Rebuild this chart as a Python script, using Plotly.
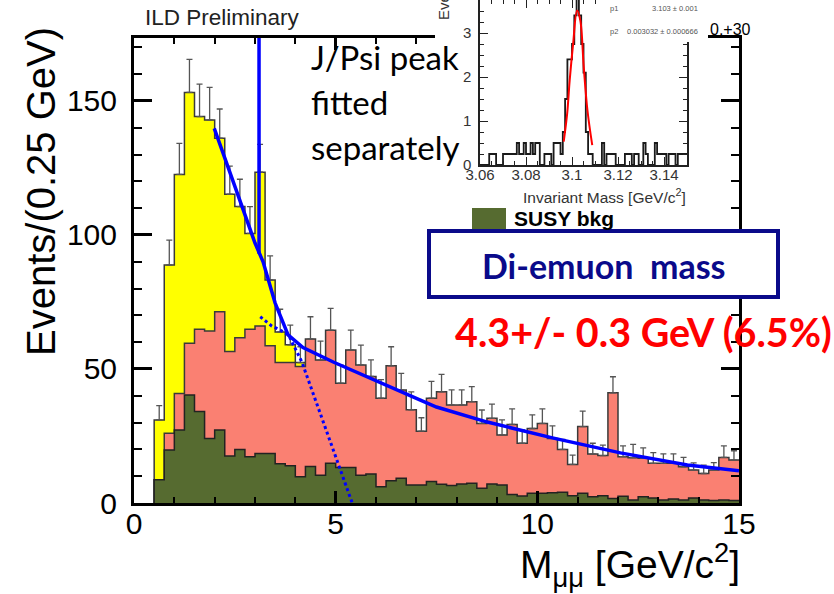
import plotly.graph_objects as go

W, H = 834, 594

# ---------------- data: main histogram (0.25 GeV bins, 0.5 .. 15 GeV) ----------------
bin_start = 0.5
bin_width = 0.25
n_bins = 58
edges = [bin_start + bin_width * i for i in range(n_bins + 1)]
centers = [e + bin_width / 2 for e in edges[:-1]]

# SUSY background (olive, bottom of stack)
susy_bkg = [8.7, 19.8, 27.2, 40.3, 34.1, 24.1, 27.2, 17.5, 20.0, 17.3,
            18.5, 18.5, 14.6, 13.9, 9.8, 13.6, 10.4, 14.8, 13.2, 13.2,
            10.4, 10.8, 6.1, 8.3, 9.2, 6.7, 6.7, 8.0, 7.0, 6.5,
            7.1, 7.4, 5.5, 7.1, 6.7, 3.2, 2.6, 3.6, 3.6, 3.8,
            4.0, 2.7, 3.6, 2.3, 2.7, 1.7, 2.5, 1.1, 2.3, 1.9,
            1.1, 1.5, 1.1, 1.9, 1.1, 0.9, 1.1, 0.9]

# cumulative top of the salmon component
salmon_top = [8.7, 26.0, 40.9, 59.6, 64.8, 64.2, 71.4, 56.5, 61.7, 64.8,
              66.0, 58.7, 52.4, 52.4, 50.9, 61.2, 53.4, 64.5, 44.7, 57.1,
              51.5, 47.2, 39.1, 51.2, 42.2, 34.8, 26.8, 39.1, 41.5, 36.6,
              36.6, 37.8, 29.7, 31.6, 25.4, 29.3, 22.3, 27.8, 29.7, 24.1,
              20.0, 14.4, 28.5, 18.3, 17.7, 41.1, 17.3, 16.9, 16.7, 14.8,
              14.8, 14.8, 13.5, 12.3, 11.0, 12.3, 17.0, 16.0]

# cumulative top of the yellow component (first 15 bins, 0.5 .. 4.25 GeV)
yellow_top = [31.0, 88.8, 122.6, 153.2, 144.2, 142.9, 136.1, 115.2, 110.6, 100.6,
              123.4, 83.2, 63.8, 59.0, 52.4]

# upper end of the error bars
err_top = [36.3, 98.1, 134.2, 165.5, 156.3, 155.1, 147.0, 125.7, 120.8, 110.6,
           133.8, 92.2, 72.3, 66.4, 58.3, 69.5, 60.4, 72.6, 51.4, 64.5,
           58.9, 53.4, 46.0, 58.3, 48.4, 41.5, 31.8, 45.4, 48.0, 42.2,
           42.2, 43.4, 34.7, 36.9, 31.0, 35.1, 27.3, 32.9, 35.1, 28.8,
           23.7, 17.9, 34.3, 22.3, 21.6, 47.1, 21.3, 21.9, 20.6, 18.8,
           18.3, 18.3, 17.0, 15.0, 14.1, 15.1, 21.3, 19.5]

# fit curves
fit_x = [1.99, 2.46, 3.0, 3.2, 3.5, 3.82, 4.19, 4.94, 6.1, 7.1, 7.5, 8.76, 10.4, 12.06, 13.72, 15.0]
fit_y = [139.8, 120.0, 97.0, 90.0, 74.6, 62.7, 58.0, 52.6, 44.8, 38.4, 35.8, 30.2, 24.2, 18.7, 14.2, 12.0]
edge_fit_x = [3.13, 3.42, 3.62, 3.83, 4.16, 4.62, 5.03, 5.41]
edge_fit_y = [69.5, 66.0, 64.6, 62.7, 52.7, 33.5, 16.0, 0.0]
jpsi_x = [3.1, 3.1]
jpsi_y = [93.0, 260.0]

# ---------------- data: inset (J/Psi peak) ----------------
inset_start = 3.06
inset_width = 0.001
inset_vals = [0, 0, 0, 0, 0.25, 0.25, 0.25, 0, 0, 0,
              0.25, 0.25, 0.25, 0.25, 0.25, 0.25, 0.5, 0.25, 0.25, 0.5,
              0.25, 0.25, 0.5, 0.25, 0.5, 0.5, 0, 0, 0.25, 0.25,
              0.25, 0, 0.5, 0.5, 0.5, 0.25,
              0.75, 1.5, 2.4, 2.4, 2.75, 3.4, 4.0, 3.4, 2.75, 2.1, 0.75, 0.25,
              0.25, 0, 0, 0, 0, 0.5, 0, 0.25, 0.25, 0.25,
              0.25, 0, 0, 0, 0, 0.25, 0.25, 0.25, 0, 0.25,
              0.25, 0, 0, 0.5, 0.25, 0, 0, 0, 0.5, 0.25,
              0.25, 0.25, 0.25, 0, 0.25, 0.25, 0.25, 0, 0.25, 0.25,
              0.25, 0.25]
inset_edges = [inset_start + inset_width * i for i in range(len(inset_vals) + 1)]
gaus_x = [3.0964, 3.0979, 3.099, 3.1005, 3.1022, 3.1036, 3.1051, 3.1067, 3.1088]
gaus_y = [0.53, 1.17, 1.93, 2.76, 3.51, 3.29, 2.23, 1.25, 0.45]

x_ticks = [0, 5, 10, 15]
y_ticks = [0, 50, 100, 150]
inset_x_ticks = [3.06, 3.08, 3.1, 3.12, 3.14]
inset_x_labels = ["3.06", "3.08", "3.1", "3.12", "3.14"]
inset_y_ticks = [0, 1, 2, 3]

# ---------------- helpers ----------------
def px(x):
    return x / W

def py(y):
    return 1 - y / H

def step(xe, vals, close_right=False):
    xs = [xe[0]] + list(xe[:-1]) + [xe[-1]]
    ys = [0] + list(vals) + [vals[-1]]
    if close_right:
        xs.append(xe[-1])
        ys.append(0)
    return xs, ys

OUT = "#3a3a3a"
YELLOW = "#ffff00"
SALMON = "#fa8072"
OLIVE = "#566b30"
BLUE = "#0000ff"
NAVY = "#0a0a8a"

fig = go.Figure()

n_y = len(yellow_top)
xs, ys = step(edges[:n_y + 1], yellow_top, close_right=True)
fig.add_trace(go.Scatter(x=xs, y=ys, mode="lines", line=dict(shape="hv", color=OUT, width=1.5),
                         fill="tozeroy", fillcolor=YELLOW, hoverinfo="skip"))
xs, ys = step(edges, salmon_top)
fig.add_trace(go.Scatter(x=xs, y=ys, mode="lines", line=dict(shape="hv", color=OUT, width=1.5),
                         fill="tozeroy", fillcolor=SALMON, hoverinfo="skip"))
xs, ys = step(edges, susy_bkg)
fig.add_trace(go.Scatter(x=xs, y=ys, mode="lines", line=dict(shape="hv", color="#222222", width=1.5),
                         fill="tozeroy", fillcolor=OLIVE, hoverinfo="skip"))

total = yellow_top + salmon_top[n_y:]
err_up = [t - v for t, v in zip(err_top, total)]
fig.add_trace(go.Scatter(x=centers, y=total, mode="markers",
                         marker=dict(color="rgba(0,0,0,0)", size=1),
                         error_y=dict(type="data", symmetric=False, array=err_up,
                                      arrayminus=[0] * len(err_up), color="#555555",
                                      thickness=1.3, width=3),
                         hoverinfo="skip"))

fig.add_trace(go.Scatter(x=fit_x, y=fit_y, mode="lines", line=dict(color=BLUE, width=3.5)))
fig.add_trace(go.Scatter(x=edge_fit_x, y=edge_fit_y, mode="lines",
                         line=dict(color=BLUE, width=3, dash="dot")))
fig.add_trace(go.Scatter(x=jpsi_x, y=jpsi_y, mode="lines", line=dict(color=BLUE, width=3.5)))

# white patch behind the inset (dummy subplot)
fig.add_trace(go.Scatter(x=[None], y=[None], xaxis="x2", yaxis="y2", mode="lines"))

# inset
ixs, iys = step(inset_edges, inset_vals)
fig.add_trace(go.Scatter(x=ixs, y=iys, xaxis="x3", yaxis="y3", mode="lines",
                         line=dict(shape="hv", color="#1a1a1a", width=1.8)))
fig.add_trace(go.Scatter(x=gaus_x, y=gaus_y, xaxis="x3", yaxis="y3", mode="lines",
                         line=dict(color="#ff0000", width=2, shape="spline")))

tickfont = dict(family="Liberation Sans, Arial", size=30, color="black")
main_axis = dict(showline=True, linecolor="black", linewidth=3, mirror="allticks",
                 ticks="inside", tickcolor="black", showgrid=False, zeroline=False,
                 tickfont=tickfont, automargin=False)
inset_font = dict(family="Liberation Sans, Arial", size=15, color="#333")

fig.update_layout(
    width=W, height=H, margin=dict(l=0, r=0, t=0, b=0, pad=0, autoexpand=False),
    paper_bgcolor="white", plot_bgcolor="white", showlegend=False,
    xaxis=dict(domain=[px(134), px(739)], range=[0, 15], anchor="y",
               tickvals=x_ticks, ticklen=12, tickwidth=3,
               minor=dict(dtick=1, tick0=0, ticks="inside", ticklen=6, tickwidth=2, tickcolor="black"),
               ticklabelstandoff=-8, **main_axis),
    yaxis=dict(domain=[py(503), py(38)], range=[0, 173.5], anchor="x",
               tickvals=y_ticks, ticklen=18, tickwidth=3,
               minor=dict(dtick=10, tick0=0, ticks="inside", ticklen=8, tickwidth=2, tickcolor="black"),
               ticklabelstandoff=8, **main_axis),
    xaxis2=dict(domain=[px(435), px(708)], anchor="y2", visible=False, range=[0, 1], automargin=False),
    yaxis2=dict(domain=[py(205), 1], anchor="x2", visible=False, range=[0, 1], automargin=False),
    xaxis3=dict(domain=[px(480), px(687)], anchor="y3", range=[3.06, 3.15],
                tickvals=inset_x_ticks, ticktext=inset_x_labels,
                showline=True, linecolor="#222", linewidth=1.5, mirror="allticks",
                ticks="inside", ticklen=8, tickcolor="#222",
                minor=dict(dtick=0.005, ticks="inside", ticklen=4, tickcolor="#222"),
                showgrid=False, zeroline=False, ticklabelstandoff=-5, automargin=False,
                tickfont=inset_font),
    yaxis3=dict(domain=[py(165), 1], anchor="x3", range=[0, 3.75],
                tickvals=inset_y_ticks, showline=True, linecolor="#222", linewidth=1.5,
                mirror="allticks", ticks="inside", ticklen=8, tickcolor="#222",
                minor=dict(dtick=0.25, ticks="inside", ticklen=4, tickcolor="#222"),
                showgrid=False, zeroline=False, ticklabelstandoff=4, automargin=False,
                tickfont=inset_font),
)

shapes = [
    # stats box of the inset
    dict(type="rect", xref="paper", yref="paper", x0=px(603), x1=px(707), y0=py(42), y1=py(-2),
         fillcolor="white", line=dict(width=0), layer="above"),
    # legend swatch
    dict(type="rect", xref="paper", yref="paper", x0=px(472), x1=px(506), y0=py(230), y1=py(208),
         fillcolor=OLIVE, line=dict(width=0), layer="above"),
    # Di-emuon mass box
    dict(type="rect", xref="paper", yref="paper", x0=px(429), x1=px(778), y0=py(297), y1=py(231),
         fillcolor="white", line=dict(color=NAVY, width=4), layer="above"),
]
fig.update_layout(shapes=shapes)

lato = "Lato, Open Sans, sans-serif"
lib = "Liberation Sans, Arial"
ann = []
ann.append(dict(text="ILD Preliminary", x=px(143), y=py(17.5), xanchor="left", yanchor="middle",
                font=dict(family=lib, size=22.5, color="#222")))
for txt, yy in [("J/Psi peak", 57), ("fitted", 102), ("separately", 147)]:
    ann.append(dict(text=txt, x=px(309), y=py(yy), xanchor="left", yanchor="middle",
                    font=dict(family=lato, size=33, color="black")))
ann.append(dict(text="<b>SUSY bkg</b>", x=px(512), y=py(218), xanchor="left", yanchor="middle",
                font=dict(family=lib, size=21, color="black")))
ann.append(dict(text="<b>Di-emuon\u00a0 mass</b>", x=px(604), y=py(265), xanchor="center", yanchor="middle",
                font=dict(family=lato, size=34, color=NAVY)))
ann.append(dict(text="<b>4.3+/- 0.3 GeV (6.5%)</b>", x=px(643), y=py(331), xanchor="center", yanchor="middle",
                font=dict(family=lato, size=39.5, color="#ff0000")))
ann.append(dict(text="0,+30", x=px(708), y=py(30), xanchor="left", yanchor="middle",
                font=dict(family=lib, size=16, color="black")))
ann.append(dict(text="Events/(0.25 GeV)", x=px(41), y=py(192), xanchor="center", yanchor="middle",
                textangle=-90, font=dict(family=lib, size=40, color="black")))
ann.append(dict(text="M<sub>\u03bc\u03bc</sub> [GeV/c<sup>2</sup>]", x=px(742), y=py(565),
                xanchor="right", yanchor="middle", font=dict(family=lib, size=39, color="black")))
ann.append(dict(text="Invariant Mass [GeV/c<sup>2</sup>]", x=px(688), y=py(196), xanchor="right",
                yanchor="middle", font=dict(family=lib, size=15.5, color="#333")))
ann.append(dict(text="Events", x=px(443), y=py(-3), xanchor="center", yanchor="middle", textangle=-90,
                font=dict(family=lib, size=15, color="#333")))
ann.append(dict(text="p1", x=px(608), y=py(8), xanchor="left", yanchor="middle",
                font=dict(family=lib, size=7.5, color="#555")))
ann.append(dict(text="3.103 \u00b1 0.001", x=px(700), y=py(8), xanchor="right", yanchor="middle",
                font=dict(family=lib, size=7.5, color="#555")))
ann.append(dict(text="p2", x=px(608), y=py(31), xanchor="left", yanchor="middle",
                font=dict(family=lib, size=7.5, color="#555")))
ann.append(dict(text="0.003032 \u00b1 0.000666", x=px(700), y=py(31), xanchor="right", yanchor="middle",
                font=dict(family=lib, size=7.5, color="#555")))
for a in ann:
    a.update(xref="paper", yref="paper", showarrow=False)
fig.update_layout(annotations=ann)

fig.write_html("out.html")
